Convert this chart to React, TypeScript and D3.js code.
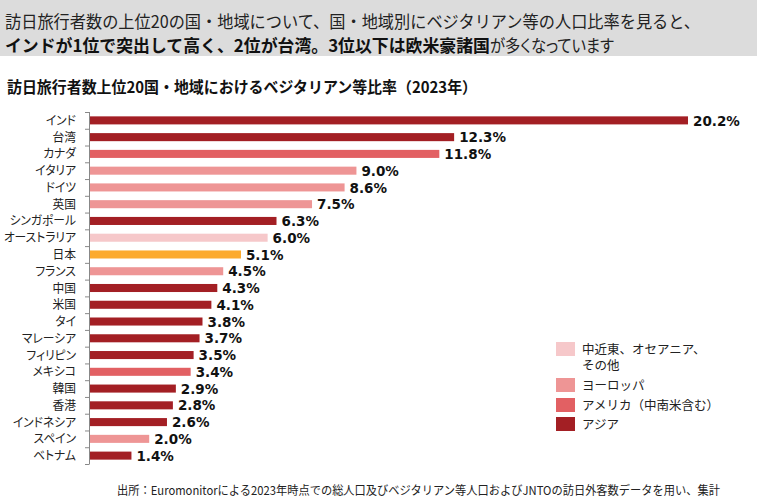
import React from "react";
import * as d3 from "d3";

const countries = ["インド","台湾","カナダ","イタリア","ドイツ","英国","シンガポール","オーストラリア","日本","フランス","中国","米国","タイ","マレーシア","フィリピン","メキシコ","韓国","香港","インドネシア","スペイン","ベトナム"];
const values = [20.2,12.3,11.8,9.0,8.6,7.5,6.3,6.0,5.1,4.5,4.3,4.1,3.8,3.7,3.5,3.4,2.9,2.8,2.6,2.0,1.4];
const regions = ["asia","asia","america","europe","europe","europe","asia","other","japan","europe","asia","asia","asia","asia","asia","america","asia","asia","asia","europe","asia"];
const regionColors: Record<string,string> = {
  asia: "#A31F24",
  america: "#E26063",
  europe: "#EE9595",
  other: "#F6C8CA",
  japan: "#FCAA2E",
};
const legendKeys = ["other","europe","america","asia"];
const legendLabels = [["中近東、オセアニア、","その他"],["ヨーロッパ"],["アメリカ（中南米含む）"],["アジア"]];

const W = 760, H = 500;
const JP = "'Noto Sans CJK JP', 'Noto Sans', sans-serif";
const palt = { fontFeatureSettings: "'palt'" };

export default function App() {
  const x = d3.scaleLinear().domain([0, 20.2]).range([90, 688]);
  const band = d3.scaleBand().domain(countries).range([112, 464]);
  const y = d3.scaleBand().domain(countries).range([112, 464]).paddingInner(0.52).paddingOuter(0.26);
  const legendY = [349, 385, 405, 424];
  return (
    <svg width={W} height={H} style={{ position: "absolute", left: 0, top: 0, background: "#fff" }}>
      <rect x={0} y={0} width={757} height={56} fill="#DCDCDC" />
      <text x={5} y={28} fontFamily={JP} fontSize={17} fill="#222" textLength={695} lengthAdjust="spacingAndGlyphs">訪日旅行者数の上位20の国・地域について、国・地域別にベジタリアン等の人口比率を見ると、</text>
      <text x={5} y={52} fontFamily={JP} fontSize={17} fontWeight="bold" fill="#111" textLength={485} lengthAdjust="spacingAndGlyphs">インドが1位で突出して高く、2位が台湾。3位以下は欧米豪諸国</text>
      <text x={490} y={52} fontFamily={JP} fontSize={17} fill="#222" style={palt} textLength={124} lengthAdjust="spacingAndGlyphs">が多くなっています</text>
      <text x={7} y={93} fontFamily={JP} fontSize={15.5} fontWeight="bold" fill="#111" textLength={470} lengthAdjust="spacingAndGlyphs">訪日旅行者数上位20国・地域におけるベジタリアン等比率（2023年）</text>

      <line x1={89.5} x2={89.5} y1={112} y2={464} stroke="#888" />
      {band.domain().map((c, i) => (
        <line key={"t"+i} x1={85} x2={89.5} y1={band(c)!+0.5} y2={band(c)!+0.5} stroke="#888" />
      ))}
      <line x1={85} x2={89.5} y1={464.5} y2={464.5} stroke="#888" />

      {countries.map((c, i) => {
        const yc = band(c)! + band.bandwidth() / 2;
        return (
          <g key={c}>
            <rect x={x(0)} y={y(c)} width={x(values[i]) - x(0)} height={y.bandwidth()} fill={regionColors[regions[i]]} />
            <g transform={`translate(76,${yc}) scale(0.94,1)`}>
              <text x={0} y={0} dy="0.36em" textAnchor="end" fontFamily={JP} fontSize={12.5} fill="#222" style={palt}>{c}</text>
            </g>
            <text x={x(values[i]) + 5} y={yc} dy="0.38em" fontFamily="'DejaVu Sans', Verdana, sans-serif" fontWeight="bold" fontSize={13.5} fill="#111">{values[i].toFixed(1)}%</text>
          </g>
        );
      })}

      {legendKeys.map((k, i) => (
        <g key={k}>
          <rect x={556} y={legendY[i] - 7} width={19} height={14} fill={regionColors[k]} />
          <text x={582} y={legendY[i]} dy="0.36em" fontFamily={JP} fontSize={12.5} fill="#222">
            {legendLabels[i].map((t, j) => (
              <tspan key={j} x={582} dy={j === 0 ? "0.36em" : 16}>{t}</tspan>
            ))}
          </text>
        </g>
      ))}

      <text x={117} y={495} fontFamily={JP} fontSize={12} fill="#222" textLength={603} lengthAdjust="spacingAndGlyphs">出所：Euromonitorによる2023年時点での総人口及びベジタリアン等人口およびJNTOの訪日外客数データを用い、集計</text>
    </svg>
  );
}
